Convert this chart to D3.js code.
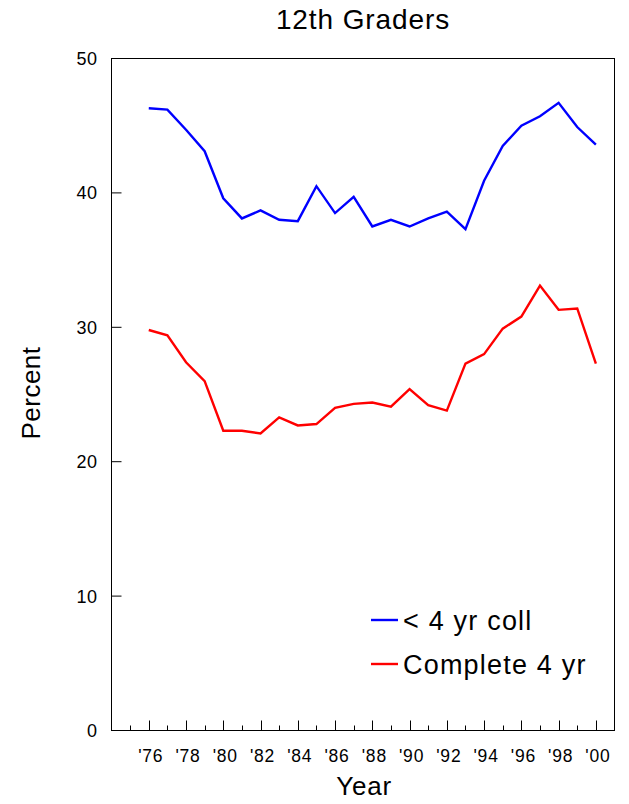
<!DOCTYPE html>
<html><head><meta charset="utf-8">
<script src="https://cdn.jsdelivr.net/npm/d3@7"></script>
<style>body{margin:0;background:#fff}svg{display:block}text{font-family:"Liberation Sans",Arial,sans-serif;fill:#000}</style>
</head><body>
<script>
const years = [1976,1977,1978,1979,1980,1981,1982,1983,1984,1985,1986,1987,1988,1989,1990,1991,1992,1993,1994,1995,1996,1997,1998,1999,2000];
const lessThan4yr = [46.3,46.2,44.7,43.1,39.6,38.1,38.7,38.0,37.9,40.5,38.5,39.7,37.5,38.0,37.5,38.1,38.6,37.3,40.9,43.5,45.0,45.7,46.7,44.9,43.6];
const complete4yr = [29.8,29.4,27.4,26.0,22.3,22.3,22.1,23.3,22.7,22.8,24.0,24.3,24.4,24.1,25.4,24.2,23.8,27.3,28.0,29.9,30.8,33.1,31.3,31.4,27.3];
const yTicks = [0,10,20,30,40,50];
const xLabelYears = [1976,1978,1980,1982,1984,1986,1988,1990,1992,1994,1996,1998,2000];
const seriesNames = ["< 4 yr coll","Complete 4 yr"];
const seriesColors = ["#0000ff","#ff0000"];

const W=629,H=804;
const L=111.5,R=614.5,T=58.5,B=730.5;
const svg=d3.select("body").append("svg").attr("width",W).attr("height",H);
const x=d3.scaleLinear().domain([1974,2001]).range([L,R]);
const y=d3.scaleLinear().domain([0,50]).range([B,T]);

svg.append("rect").attr("x",L).attr("y",T).attr("width",R-L).attr("height",B-T)
  .attr("fill","none").attr("stroke","#000").attr("stroke-width",1);

const yax=svg.append("g");
yTicks.forEach(v=>{
  yax.append("line").attr("x1",L).attr("x2",L+10).attr("y1",y(v)).attr("y2",y(v)).attr("stroke","#000");
  yax.append("text").attr("x",L-14).attr("y",y(v)+6.5).attr("text-anchor","end").attr("font-size",18).attr("letter-spacing",0.5).text(v);
});
d3.range(1975,2001).forEach(yr=>{
  const len = yr%2===0?10:5;
  svg.append("line").attr("x1",Math.round(x(yr))+0.5).attr("x2",Math.round(x(yr))+0.5)
    .attr("y1",B).attr("y2",B-len).attr("stroke","#000");
});
xLabelYears.forEach(yr=>{
  svg.append("text").attr("x",x(yr)+2).attr("y",762).attr("text-anchor","middle").attr("font-size",17.5).attr("letter-spacing",0.8)
    .text("'"+String(yr%100).padStart(2,"0"));
});

const line=d3.line().x((d,i)=>x(years[i])).y(d=>y(d));
[lessThan4yr,complete4yr].forEach((s,k)=>{
  svg.append("path").datum(s).attr("d",line).attr("fill","none")
    .attr("stroke",seriesColors[k]).attr("stroke-width",2.4).attr("stroke-linejoin","miter");
});

const legY=[620,664];
seriesNames.forEach((n,k)=>{
  svg.append("line").attr("x1",371).attr("x2",398).attr("y1",legY[k]).attr("y2",legY[k])
    .attr("stroke",seriesColors[k]).attr("stroke-width",2.4);
  svg.append("text").attr("x",403).attr("y",legY[k]+10).attr("font-size",27).attr("letter-spacing",1.2).text(n);
});

svg.append("text").attr("x",363).attr("y",29).attr("text-anchor","middle").attr("font-size",28).attr("letter-spacing",0.9).text("12th Graders");
svg.append("text").attr("x",364).attr("y",795).attr("text-anchor","middle").attr("font-size",26).attr("letter-spacing",0.8).text("Year");
svg.append("text").attr("transform","translate(40,393) rotate(-90)").attr("text-anchor","middle").attr("font-size",26).attr("letter-spacing",0.5).text("Percent");
</script>
</body></html>
